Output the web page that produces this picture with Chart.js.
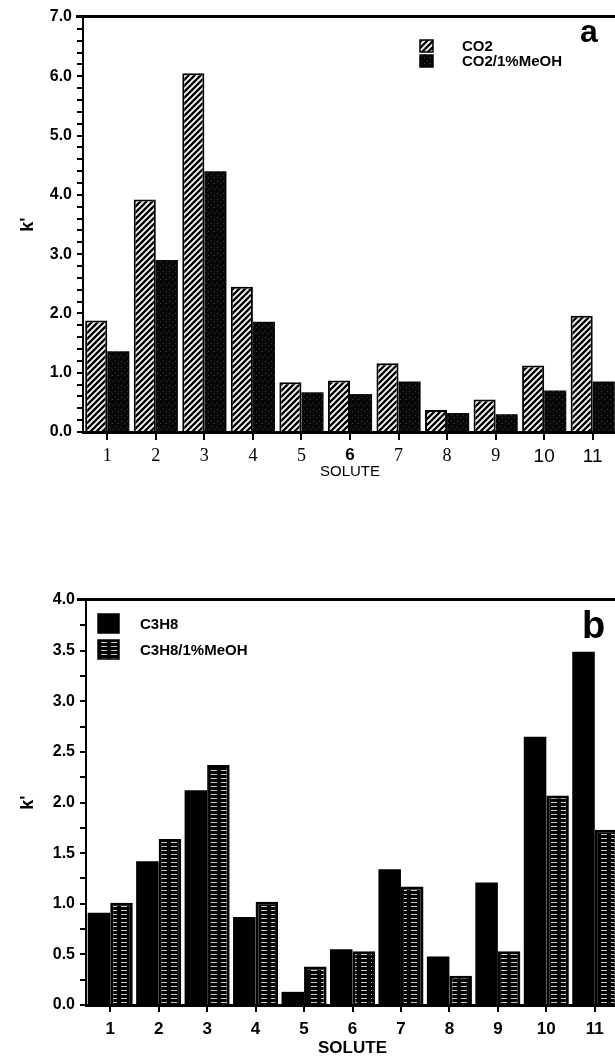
<!DOCTYPE html>
<html>
<head>
<meta charset="utf-8">
<script src="https://cdn.jsdelivr.net/npm/chart.js@4.4.1/dist/chart.umd.min.js"></script>
<style>
    body { margin: 0; background: #fff; overflow: hidden; width: 615px; height: 1058px; position: relative; }
    canvas { position: absolute; left: 0; }
    #chart-a { top: 0; }
    #chart-b { top: 540px; }
</style>
</head>
<body>
<canvas id="chart-a" width="618" height="490"></canvas>
<canvas id="chart-b" width="620" height="522"></canvas>
<script>
const solutes = [`1`, `2`, `3`, `4`, `5`, `6`, `7`, `8`, `9`, `10`, `11`];

// panel a
const co2 = [1.88, 3.92, 6.05, 2.45, 0.84, 0.87, 1.16, 0.37, 0.55, 1.12, 1.96];
const co2Meoh = [1.36, 2.90, 4.40, 1.86, 0.67, 0.64, 0.85, 0.32, 0.30, 0.70, 0.85];

// panel b
const c3h8 = [0.91, 1.42, 2.12, 0.87, 0.13, 0.55, 1.34, 0.48, 1.21, 2.65, 3.49];
const c3h8Meoh = [1.01, 1.64, 2.37, 1.02, 0.38, 0.53, 1.17, 0.29, 0.53, 2.07, 1.73];

const SANS = `"Liberation Sans", Arial, sans-serif`;
const SERIF = `"Liberation Serif", "Times New Roman", serif`;

function makePattern(ctx, w, h, paint) {
    const c = document.createElement(`canvas`);
    c.width = w;
    c.height = h;
    paint(c.getContext(`2d`));
    return ctx.createPattern(c, `repeat`);
}

function hatch(ctx) {
    return makePattern(ctx, 6, 6, p => {
        p.fillStyle = `#fff`;
        p.fillRect(0, 0, 6, 6);
        p.strokeStyle = `#000`;
        p.lineWidth = 2.4;
        p.beginPath();
        p.moveTo(-1, 7); p.lineTo(7, -1);
        p.moveTo(-1, 1); p.lineTo(1, -1);
        p.moveTo(5, 7); p.lineTo(7, 5);
        p.stroke();
    });
}

function speckle(ctx) {
    return makePattern(ctx, 6, 6, p => {
        p.fillStyle = `#080808`;
        p.fillRect(0, 0, 6, 6);
        p.fillStyle = `#3a3a3a`;
        p.fillRect(1, 1, 1, 1);
        p.fillRect(4, 3, 1, 1);
    });
}

function stripes(ctx) {
    return makePattern(ctx, 10, 4, p => {
        p.fillStyle = `#000`;
        p.fillRect(0, 0, 10, 4);
        p.fillStyle = `#c8c8c8`;
        p.fillRect(1, 2, 6, 1);
    });
}

const frameLegend = {
    id: `frameLegend`,
    afterDraw(chart, args, opts) {
        const { ctx, chartArea } = chart;
        ctx.save();
        ctx.fillStyle = `#000`;
        ctx.fillRect(opts.frameLeft, chartArea.top - 2, chart.width - opts.frameLeft, 3);

        ctx.font = opts.letterFont;
        ctx.textAlign = `left`;
        ctx.textBaseline = `alphabetic`;
        ctx.fillText(opts.letter, opts.letterX, opts.letterY);

        ctx.font = opts.legendFont;
        ctx.textBaseline = `middle`;
        chart.data.datasets.forEach((ds, i) => {
            const y = opts.legendY + i * opts.legendGap;
            ctx.fillStyle = ds.backgroundColor;
            ctx.fillRect(opts.legendX, y, opts.boxW, opts.boxH);
            ctx.strokeStyle = `#000`;
            ctx.lineWidth = 1.5;
            ctx.strokeRect(opts.legendX, y, opts.boxW, opts.boxH);
            ctx.fillStyle = `#000`;
            ctx.fillText(ds.label, opts.textX, y + opts.boxH / 2 + 1);
        });
        ctx.restore();
    }
};

function yAxis(max, step, width, isMajor) {
    return {
        min: 0,
        max: max,
        afterFit: scale => { scale.width = width; },
        border: { color: `#000`, width: 2 },
        grid: { drawOnChartArea: false, color: `#000`, lineWidth: 2, tickLength: 6 },
        ticks: {
            stepSize: step,
            autoSkip: false,
            color: `#000`,
            padding: 5,
            font: { family: SANS, size: 16, weight: `bold` },
            callback: value => isMajor(value) ? value.toFixed(1) : ``
        },
        title: {
            display: true,
            text: `k'`,
            color: `#000`,
            font: { family: SANS, size: 18, weight: `bold` },
            padding: { top: 17, bottom: 0 }
        }
    };
}

function drawA() {
    const canvas = document.querySelector(`#chart-a`);
    const ctx = canvas.getContext(`2d`);
    new Chart(ctx, {
        type: `bar`,
        data: {
            labels: solutes,
            datasets: [
                { label: `CO2`, data: co2, backgroundColor: hatch(ctx), borderColor: `#000`, borderWidth: 2 },
                { label: `CO2/1%MeOH`, data: co2Meoh, backgroundColor: speckle(ctx), borderColor: `#111`, borderWidth: 0 }
            ]
        },
        options: {
            responsive: false,
            animation: false,
            layout: { padding: { top: 17, right: 1, left: 0, bottom: 0 } },
            datasets: { bar: { categoryPercentage: 0.91, barPercentage: 1 } },
            scales: {
                x: {
                    afterFit: scale => { scale.height = 58; },
                    border: { color: `#000`, width: 3 },
                    grid: { drawOnChartArea: false, offset: false, color: `#000`, lineWidth: 2, tickLength: 8 },
                    ticks: {
                        color: `#000`,
                        padding: 5,
                        maxRotation: 0,
                        font: c => {
                            if (c.index === 5) return { family: SANS, size: 17, weight: `bold` };
                            if (c.index >= 9) return { family: SANS, size: 19 };
                            return { family: SERIF, size: 18 };
                        }
                    },
                    title: {
                        display: true,
                        text: `SOLUTE`,
                        color: `#000`,
                        font: { family: SANS, size: 15 },
                        padding: { top: 0, bottom: 9 }
                    }
                },
                y: yAxis(7, 0.2, 83, v => Math.abs(v - Math.round(v)) < 1e-6)
            },
            plugins: {
                legend: { display: false },
                tooltip: { enabled: false },
                frameLegend: {
                    frameLeft: 76,
                    letter: `a`, letterX: 580, letterY: 42,
                    letterFont: `bold 32px ${SANS}`,
                    legendFont: `bold 15px ${SANS}`,
                    legendX: 420, legendY: 40, legendGap: 15,
                    boxW: 13, boxH: 12, textX: 462
                }
            }
        },
        plugins: [frameLegend]
    });
}

function drawB() {
    const canvas = document.querySelector(`#chart-b`);
    const ctx = canvas.getContext(`2d`);
    new Chart(ctx, {
        type: `bar`,
        data: {
            labels: solutes,
            datasets: [
                { label: `C3H8`, data: c3h8, backgroundColor: `#000`, borderWidth: 0 },
                { label: `C3H8/1%MeOH`, data: c3h8Meoh, backgroundColor: stripes(ctx), borderColor: `#000`, borderWidth: 3 }
            ]
        },
        options: {
            responsive: false,
            animation: false,
            layout: { padding: { top: 60, right: 1, left: 0, bottom: 0 } },
            datasets: { bar: { categoryPercentage: 0.93, barPercentage: 1 } },
            scales: {
                x: {
                    afterFit: scale => { scale.height = 57; },
                    border: { color: `#000`, width: 3 },
                    grid: { drawOnChartArea: false, offset: false, color: `#000`, lineWidth: 2, tickLength: 7 },
                    ticks: {
                        color: `#000`,
                        padding: 7,
                        maxRotation: 0,
                        font: { family: SANS, size: 17, weight: `bold` }
                    },
                    title: {
                        display: true,
                        text: `SOLUTE`,
                        color: `#000`,
                        font: { family: SANS, size: 17, weight: `bold` },
                        padding: { top: 0, bottom: 3 }
                    }
                },
                y: yAxis(4, 0.25, 86, v => Math.abs(v * 2 - Math.round(v * 2)) < 1e-6)
            },
            plugins: {
                legend: { display: false },
                tooltip: { enabled: false },
                frameLegend: {
                    frameLeft: 77,
                    letter: `b`, letterX: 582, letterY: 98,
                    letterFont: `bold 38px ${SANS}`,
                    legendFont: `bold 15px ${SANS}`,
                    legendX: 98, legendY: 74, legendGap: 26,
                    boxW: 21, boxH: 19, textX: 140
                }
            }
        },
        plugins: [frameLegend]
    });
}

drawA();
drawB();
</script>
</body>
</html>
